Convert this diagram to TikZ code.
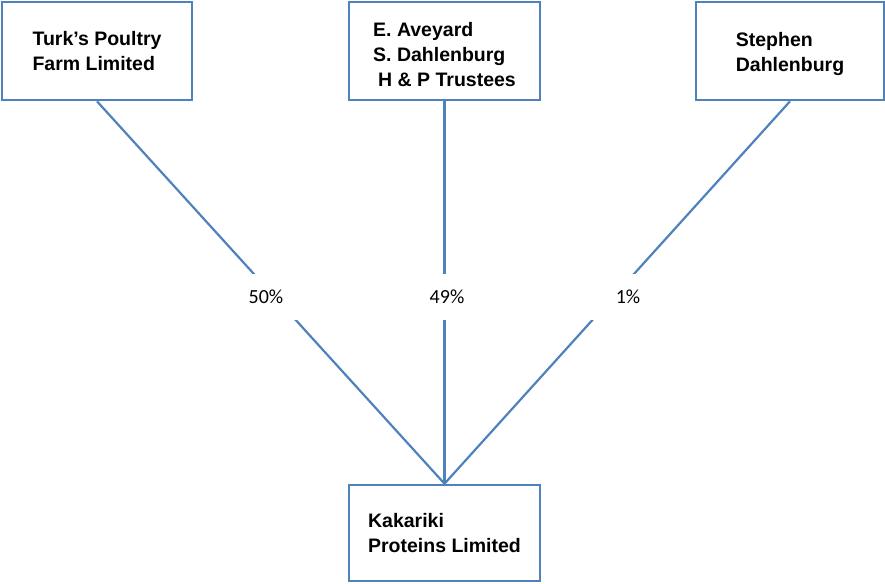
\documentclass[tikz,border=0pt]{standalone}
\usepackage{fontspec}
\setmainfont{Liberation Sans}
\newfontfamily\labfont{Carlito}
\definecolor{linkblue}{HTML}{4F81BD}
\begin{document}
\begin{tikzpicture}[x=1pt,y=-1pt,
  entity/.style={draw=linkblue, line width=2.6pt, fill=white, inner sep=0pt,
    align=left, font=\fontsize{19.5}{25}\selectfont\bfseries},
  share/.style={fill=white, inner sep=0pt, minimum width=76pt, minimum height=46pt,
    font=\labfont\fontsize{20}{24}\selectfont},
  link/.style={draw=linkblue, line width=2.2pt}]
\useasboundingbox (0,0) rectangle (885,583);
\node[entity, minimum width=190pt, minimum height=98pt] (turk) at (97,51)
  {Turk’s Poultry\\Farm Limited};
\node[entity, minimum width=191pt, minimum height=98pt] (trust) at (444.5,51)
  {\rule{0pt}{22pt}E. Aveyard\\S. Dahlenburg\\\hspace{5pt}H \& P Trustees};
\node[entity, minimum width=188pt, minimum height=98pt] (steph) at (790,51)
  {\rule{0pt}{20pt}Stephen\\Dahlenburg};
\node[entity, minimum width=191pt, minimum height=96pt] (kak) at (444.5,533)
  {Kakariki\\Proteins Limited};
\draw[link] (turk.south) -- (kak.north);
\draw[link] (trust.south) -- (kak.north);
\draw[link] (steph.south) -- (kak.north);
\node[share] (s50) at (266,297) {50\%};
\node[share] (s49) at (447,297) {49\%};
\node[share] (s1) at (628,297) {1\%};
\end{tikzpicture}
\end{document}
